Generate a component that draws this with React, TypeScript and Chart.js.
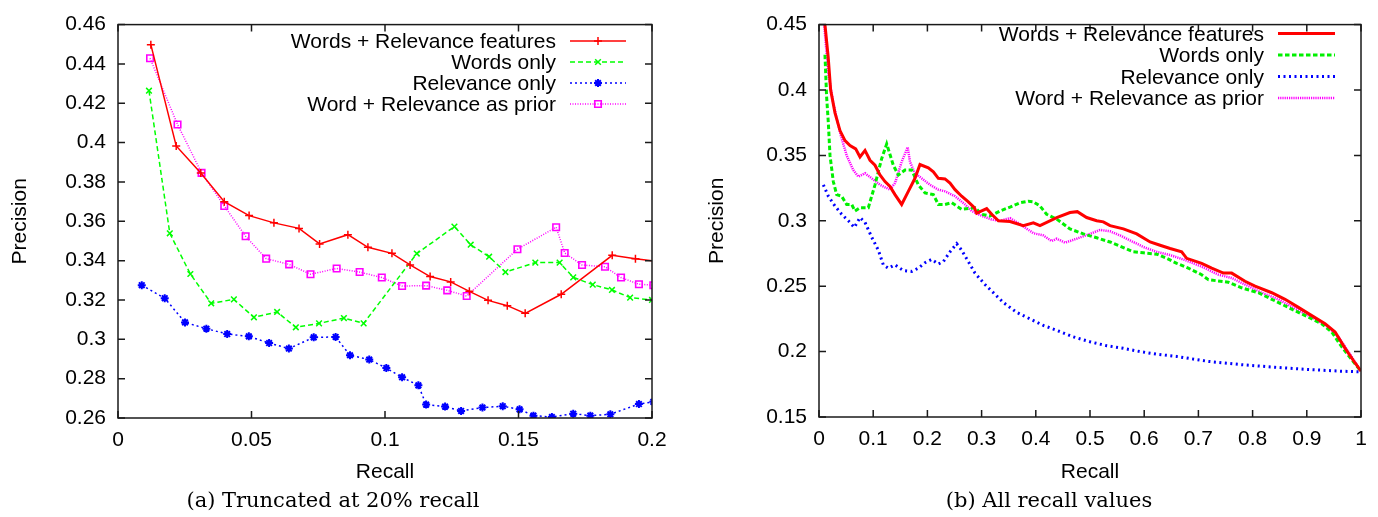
import React, { useEffect, useRef } from "react";
import { Chart, registerables } from "chart.js";
import { drawPoint } from "chart.js/helpers";

Chart.register(...registerables);

const FONT = "'Liberation Sans', Arial, Helvetica, sans-serif";
const SERIF = "'DejaVu Serif', 'Liberation Serif', serif";

const SERIES = [
  "Words + Relevance features",
  "Words only",
  "Relevance only",
  "Word + Relevance as prior",
];

// ---------- (a) truncated at 20% recall ----------
const A_X_TICKS = [0, 0.05, 0.1, 0.15, 0.2];
const A_X_LABELS = ["0", "0.05", "0.1", "0.15", "0.2"];
const A_Y_TICKS = [0.26, 0.28, 0.3, 0.32, 0.34, 0.36, 0.38, 0.4, 0.42, 0.44, 0.46];
const A_Y_LABELS = ["0.26", "0.28", "0.3", "0.32", "0.34", "0.36", "0.38", "0.4", "0.42", "0.44", "0.46"];

const A_RED_X = [0.0123, 0.0218, 0.031, 0.0398, 0.0491, 0.0584, 0.0678, 0.0755, 0.0861, 0.0936, 0.1026, 0.1094, 0.1169, 0.1246, 0.1316, 0.1386, 0.1458, 0.1525, 0.166, 0.1851, 0.1938, 0.2025];
const A_RED_Y = [0.4498, 0.3983, 0.3846, 0.37, 0.3629, 0.3592, 0.3564, 0.3485, 0.3532, 0.3468, 0.3437, 0.3378, 0.3319, 0.3292, 0.3244, 0.3198, 0.3171, 0.3132, 0.3229, 0.3427, 0.341, 0.3396];

const A_GREEN_X = [0.0116, 0.0194, 0.0271, 0.0349, 0.0434, 0.0509, 0.0596, 0.0666, 0.0753, 0.0846, 0.092, 0.1119, 0.126, 0.1321, 0.139, 0.1451, 0.1563, 0.1654, 0.1705, 0.1778, 0.185, 0.1918, 0.2];
const A_GREEN_Y = [0.4264, 0.3539, 0.3332, 0.3183, 0.3203, 0.3112, 0.3139, 0.3061, 0.3081, 0.3108, 0.3081, 0.3436, 0.3573, 0.3481, 0.342, 0.3342, 0.339, 0.339, 0.3315, 0.3278, 0.3251, 0.3212, 0.32];

const A_BLUE_X = [0.0089, 0.0175, 0.0251, 0.0331, 0.0409, 0.049, 0.0566, 0.064, 0.0733, 0.0815, 0.0869, 0.0941, 0.1005, 0.1064, 0.1125, 0.1154, 0.1225, 0.1285, 0.1365, 0.1441, 0.1504, 0.1556, 0.1625, 0.1705, 0.1769, 0.1844, 0.1951, 0.2005];
const A_BLUE_Y = [0.3275, 0.3209, 0.3086, 0.3054, 0.3027, 0.3015, 0.2981, 0.2953, 0.301, 0.3012, 0.2919, 0.2897, 0.2854, 0.2807, 0.2766, 0.2668, 0.2658, 0.2636, 0.2653, 0.266, 0.2644, 0.2612, 0.2605, 0.2622, 0.2612, 0.2619, 0.2671, 0.2682];

const A_MAG_X = [0.012, 0.0223, 0.0313, 0.0398, 0.0478, 0.0555, 0.0641, 0.0721, 0.0819, 0.0905, 0.0988, 0.1064, 0.1154, 0.1233, 0.1306, 0.1496, 0.1641, 0.1673, 0.1738, 0.1824, 0.1884, 0.1951, 0.2005];
const A_MAG_Y = [0.4429, 0.4092, 0.3846, 0.3678, 0.3524, 0.341, 0.3381, 0.3331, 0.336, 0.3342, 0.3314, 0.3271, 0.3273, 0.3249, 0.322, 0.3458, 0.357, 0.3439, 0.3378, 0.3369, 0.3314, 0.328, 0.3275];

// ---------- (b) all recall values ----------
const B_X_TICKS = [0, 0.1, 0.2, 0.3, 0.4, 0.5, 0.6, 0.7, 0.8, 0.9, 1];
const B_X_LABELS = ["0", "0.1", "0.2", "0.3", "0.4", "0.5", "0.6", "0.7", "0.8", "0.9", "1"];
const B_Y_TICKS = [0.15, 0.2, 0.25, 0.3, 0.35, 0.4, 0.45];
const B_Y_LABELS = ["0.15", "0.2", "0.25", "0.3", "0.35", "0.4", "0.45"];

const B_RED_X = [0.006, 0.011, 0.017, 0.0215, 0.0295, 0.0387, 0.048, 0.0572, 0.0677, 0.0756, 0.0849, 0.0941, 0.1033, 0.1125, 0.1218, 0.131, 0.1402, 0.1525, 0.1648, 0.1771, 0.1863, 0.2017, 0.211, 0.2202, 0.2325, 0.2417, 0.251, 0.2632, 0.2755, 0.2866, 0.2909, 0.3001, 0.3094, 0.3186, 0.331, 0.3524, 0.377, 0.3955, 0.4077, 0.4385, 0.4631, 0.4766, 0.4938, 0.5123, 0.5246, 0.537, 0.5616, 0.5862, 0.6109, 0.6293, 0.6478, 0.6691, 0.6784, 0.706, 0.7245, 0.7461, 0.7614, 0.786, 0.8045, 0.8353, 0.8599, 0.8845, 0.9091, 0.9337, 0.9522, 0.9707, 0.9891, 1.0];
const B_RED_Y = [0.47, 0.45, 0.425, 0.4, 0.3825, 0.369, 0.3613, 0.3575, 0.355, 0.3488, 0.3538, 0.3463, 0.3425, 0.335, 0.33, 0.3263, 0.32, 0.3125, 0.3225, 0.3325, 0.343, 0.3405, 0.3375, 0.3325, 0.332, 0.3288, 0.3238, 0.3188, 0.3145, 0.31, 0.3058, 0.3075, 0.3093, 0.305, 0.3, 0.2995, 0.2963, 0.2985, 0.2963, 0.3025, 0.3063, 0.307, 0.3025, 0.3, 0.2992, 0.2963, 0.2938, 0.29, 0.2838, 0.2813, 0.2788, 0.2763, 0.2713, 0.2675, 0.2638, 0.26, 0.26, 0.2538, 0.25, 0.245, 0.24, 0.2338, 0.2275, 0.2213, 0.215, 0.2025, 0.1913, 0.185];

const B_GREEN_X = [0.011, 0.014, 0.0172, 0.0203, 0.0264, 0.0326, 0.0418, 0.051, 0.0603, 0.0664, 0.0756, 0.091, 0.1033, 0.1156, 0.1249, 0.1371, 0.1464, 0.1587, 0.171, 0.1833, 0.1956, 0.211, 0.2202, 0.2325, 0.2448, 0.254, 0.2632, 0.2878, 0.3001, 0.3155, 0.3339, 0.3524, 0.3708, 0.3862, 0.3955, 0.4077, 0.42, 0.4385, 0.4631, 0.4877, 0.5123, 0.5369, 0.5615, 0.58, 0.5985, 0.623, 0.6415, 0.66, 0.6814, 0.706, 0.7183, 0.7552, 0.7798, 0.8106, 0.8413, 0.8721, 0.9029, 0.9275, 0.9459, 0.9643, 0.9828, 1.0];
const B_GREEN_Y = [0.427, 0.395, 0.375, 0.35, 0.33, 0.32, 0.3188, 0.3125, 0.3125, 0.3075, 0.31, 0.31, 0.3275, 0.3475, 0.3588, 0.3425, 0.335, 0.3388, 0.3388, 0.3275, 0.3213, 0.32, 0.3125, 0.3125, 0.3138, 0.3113, 0.3088, 0.31, 0.305, 0.3037, 0.3075, 0.3105, 0.3138, 0.315, 0.3145, 0.3113, 0.305, 0.3013, 0.2938, 0.29, 0.287, 0.2838, 0.2795, 0.2763, 0.2755, 0.2745, 0.2713, 0.2675, 0.2638, 0.2588, 0.255, 0.253, 0.2488, 0.245, 0.2388, 0.2325, 0.2263, 0.2213, 0.215, 0.2038, 0.1938, 0.185];

const B_BLUE_X = [0.008, 0.0172, 0.0295, 0.0418, 0.0541, 0.0652, 0.0756, 0.0849, 0.0972, 0.1095, 0.1187, 0.1279, 0.1402, 0.1556, 0.171, 0.1833, 0.1956, 0.2079, 0.2202, 0.2294, 0.2417, 0.254, 0.2632, 0.2755, 0.2878, 0.3063, 0.3247, 0.3401, 0.3647, 0.3893, 0.4139, 0.4385, 0.4692, 0.5, 0.5308, 0.5615, 0.5923, 0.623, 0.6599, 0.7183, 0.7798, 0.8413, 0.9029, 0.9643, 1.0];
const B_BLUE_Y = [0.3275, 0.3188, 0.3113, 0.305, 0.3, 0.295, 0.3025, 0.2988, 0.2875, 0.2775, 0.2663, 0.2638, 0.2663, 0.262, 0.2613, 0.2638, 0.268, 0.2705, 0.267, 0.2688, 0.2763, 0.2825, 0.2775, 0.2688, 0.26, 0.2513, 0.2438, 0.2375, 0.23, 0.225, 0.22, 0.2163, 0.2113, 0.2075, 0.2045, 0.2025, 0.2, 0.198, 0.1963, 0.1925, 0.19, 0.188, 0.1863, 0.185, 0.1845];

const B_MAG_X = [0.009, 0.011, 0.0172, 0.0264, 0.0387, 0.051, 0.0633, 0.0726, 0.0849, 0.0972, 0.1125, 0.131, 0.1402, 0.1525, 0.1636, 0.1679, 0.1771, 0.1894, 0.2048, 0.2202, 0.2325, 0.251, 0.2694, 0.2817, 0.3001, 0.3186, 0.3339, 0.3524, 0.3708, 0.3955, 0.4139, 0.4293, 0.4385, 0.4539, 0.4754, 0.5, 0.5185, 0.5369, 0.5554, 0.5739, 0.5985, 0.623, 0.6478, 0.6753, 0.706, 0.7368, 0.7614, 0.786, 0.8168, 0.8476, 0.8783, 0.9152, 0.9398, 0.9582, 0.9766, 1.0];
const B_MAG_Y = [0.452, 0.443, 0.4125, 0.39, 0.3675, 0.35, 0.3388, 0.3338, 0.3363, 0.3325, 0.3275, 0.3238, 0.3288, 0.345, 0.3563, 0.345, 0.3363, 0.3325, 0.3275, 0.3238, 0.3225, 0.3188, 0.3125, 0.3075, 0.3038, 0.301, 0.3, 0.302, 0.2975, 0.2905, 0.2888, 0.2845, 0.2863, 0.2833, 0.2863, 0.29, 0.293, 0.292, 0.2888, 0.285, 0.28, 0.2763, 0.2738, 0.27, 0.265, 0.2588, 0.2563, 0.2513, 0.245, 0.24, 0.233, 0.225, 0.2188, 0.2113, 0.2, 0.185];

const pts = (xs: number[], ys: number[]) => xs.map((x, i) => ({ x, y: ys[i] }));

const framePlugin = {
  id: "gpFrame",
  afterDatasetsDraw(chart: any) {
    const { ctx, chartArea: a, scales } = chart;
    const tl = 7;
    ctx.save();
    ctx.strokeStyle = "#1a1a1a";
    ctx.lineWidth = 1.5;
    ctx.setLineDash([]);
    ctx.strokeRect(a.left, a.top, a.right - a.left, a.bottom - a.top);
    ctx.beginPath();
    scales.x.ticks.forEach((t: any) => {
      const px = scales.x.getPixelForValue(t.value);
      ctx.moveTo(px, a.bottom);
      ctx.lineTo(px, a.bottom - tl);
      ctx.moveTo(px, a.top);
      ctx.lineTo(px, a.top + tl);
    });
    scales.y.ticks.forEach((t: any) => {
      const py = scales.y.getPixelForValue(t.value);
      ctx.moveTo(a.left, py);
      ctx.lineTo(a.left + tl, py);
      ctx.moveTo(a.right, py);
      ctx.lineTo(a.right - tl, py);
    });
    ctx.stroke();
    ctx.restore();
  },
};

const legendPlugin = {
  id: "gpLegend",
  afterDraw(chart: any, _args: any, opts: any) {
    const { ctx } = chart;
    chart.data.datasets.forEach((ds: any, i: number) => {
      const y = opts.rows[i];
      ctx.save();
      ctx.font = `21px ${FONT}`;
      ctx.fillStyle = "#000";
      ctx.textAlign = "right";
      ctx.textBaseline = "middle";
      ctx.fillText(ds.label, opts.textRight, y + 1.5);
      ctx.strokeStyle = ds.borderColor;
      ctx.lineWidth = ds.borderWidth;
      ctx.setLineDash(ds.borderDash || []);
      ctx.beginPath();
      ctx.moveTo(opts.lineStart, y);
      ctx.lineTo(opts.lineEnd, y);
      ctx.stroke();
      if (ds.pointRadius > 0) {
        ctx.setLineDash([]);
        ctx.strokeStyle = ds.borderColor;
        ctx.fillStyle = "rgba(0,0,0,0)";
        ctx.lineWidth = ds.pointBorderWidth;
        drawPoint(
          ctx,
          { pointStyle: ds.pointStyle, radius: ds.pointRadius, borderWidth: ds.pointBorderWidth, rotation: 0 } as any,
          (opts.lineStart + opts.lineEnd) / 2,
          y
        );
      }
      ctx.restore();
    });
  },
};

type AxisSpec = {
  min: number;
  max: number;
  ticks: number[];
  labels: string[];
};

function makeConfig(
  datasets: any[],
  xs: AxisSpec,
  ys: AxisSpec,
  layout: { top: number; right: number; yWidth: number; xHeight: number; yTitlePad: number; xTickPad: number; xTitlePad: number },
  legend: any
): any {
  const tickFont = { family: FONT, size: 21 };
  return {
    type: "scatter",
    data: { datasets },
    options: {
      responsive: false,
      animation: false,
      events: [],
      layout: { padding: { left: 0, top: layout.top, right: layout.right, bottom: 0 } },
      plugins: {
        legend: { display: false },
        tooltip: { enabled: false },
        gpLegend: legend,
      },
      scales: {
        x: {
          type: "linear",
          min: xs.min,
          max: xs.max,
          grid: { display: false, drawTicks: false },
          border: { display: false },
          afterBuildTicks: (s: any) => {
            s.ticks = xs.ticks.map((v) => ({ value: v }));
          },
          afterFit: (s: any) => {
            s.height = layout.xHeight;
          },
          ticks: {
            font: tickFont,
            color: "#000",
            padding: layout.xTickPad,
            maxRotation: 0,
            autoSkip: false,
            callback: (_v: any, i: number) => xs.labels[i],
          },
          title: {
            display: true,
            text: "Recall",
            font: tickFont,
            color: "#000",
            padding: { top: 0, bottom: layout.xTitlePad },
          },
        },
        y: {
          type: "linear",
          min: ys.min,
          max: ys.max,
          grid: { display: false, drawTicks: false },
          border: { display: false },
          afterBuildTicks: (s: any) => {
            s.ticks = ys.ticks.map((v) => ({ value: v }));
          },
          afterFit: (s: any) => {
            s.width = layout.yWidth;
          },
          ticks: {
            font: tickFont,
            color: "#000",
            padding: 12,
            autoSkip: false,
            callback: (_v: any, i: number) => ys.labels[i],
          },
          title: {
            display: true,
            text: "Precision",
            font: tickFont,
            color: "#000",
            padding: { top: layout.yTitlePad, bottom: 0 },
          },
        },
      },
    },
    plugins: [framePlugin, legendPlugin],
  };
}

function line(label: string, data: any[], color: string, width: number, dash: number[], pointStyle: any, radius: number, pbw: number) {
  return {
    label,
    data,
    showLine: true,
    borderColor: color,
    backgroundColor: "rgba(0,0,0,0)",
    borderWidth: width,
    borderDash: dash,
    tension: 0,
    pointStyle,
    pointRadius: radius,
    pointBorderWidth: pbw,
    pointBorderColor: color,
    pointBackgroundColor: "rgba(0,0,0,0)",
    pointHoverRadius: radius,
  };
}

export default function App() {
  const leftRef = useRef<HTMLCanvasElement>(null);
  const rightRef = useRef<HTMLCanvasElement>(null);

  useEffect(() => {
    const leftSets = [
      line(SERIES[0], pts(A_RED_X, A_RED_Y), "#ff0000", 1.5, [], "cross", 4, 1.5),
      line(SERIES[1], pts(A_GREEN_X, A_GREEN_Y), "#00ff00", 1.5, [5, 3], "crossRot", 4, 1.5),
      line(SERIES[2], pts(A_BLUE_X, A_BLUE_Y), "#0000ff", 1.5, [2, 3], "star", 4, 2),
      line(SERIES[3], pts(A_MAG_X, A_MAG_Y), "#ff00ff", 1.5, [1, 1.5], "rect", 4.6, 1.6),
    ];
    const rightSets = [
      line(SERIES[0], pts(B_RED_X, B_RED_Y), "#ff0000", 3, [], "circle", 0, 0),
      line(SERIES[1], pts(B_GREEN_X, B_GREEN_Y), "#00f000", 3, [4.5, 2.5], "circle", 0, 0),
      line(SERIES[2], pts(B_BLUE_X, B_BLUE_Y), "#0000ff", 3, [2, 3.5], "circle", 0, 0),
      line(SERIES[3], pts(B_MAG_X, B_MAG_Y), "#ff00ff", 2.5, [1.2, 1], "circle", 0, 0),
    ];
    const left = new Chart(
      leftRef.current as HTMLCanvasElement,
      makeConfig(
        leftSets,
        { min: 0, max: 0.2, ticks: A_X_TICKS, labels: A_X_LABELS },
        { min: 0.26, max: 0.46, ticks: A_Y_TICKS, labels: A_Y_LABELS },
        { top: 24, right: 38, yWidth: 118, xHeight: 99, yTitlePad: 8, xTickPad: 10, xTitlePad: 32 },
        { textRight: 556, lineStart: 570, lineEnd: 626, rows: [41, 62, 83, 104] }
      )
    );
    const right = new Chart(
      rightRef.current as HTMLCanvasElement,
      makeConfig(
        rightSets,
        { min: 0, max: 1, ticks: B_X_TICKS, labels: B_X_LABELS },
        { min: 0.15, max: 0.45, ticks: B_Y_TICKS, labels: B_Y_LABELS },
        { top: 17, right: 17, yWidth: 129, xHeight: 100, yTitlePad: 15, xTickPad: 10, xTitlePad: 32 },
        { textRight: 574, lineStart: 588, lineEnd: 645, rows: [33.5, 55, 76.5, 98] }
      )
    );
    return () => {
      left.destroy();
      right.destroy();
    };
  }, []);

  const caption: React.CSSProperties = {
    position: "absolute",
    top: 487,
    fontFamily: SERIF,
    fontSize: 21,
    lineHeight: "26px",
    color: "#000",
    whiteSpace: "nowrap",
    transform: "translateX(-50%)",
  };

  return (
    <div style={{ position: "absolute", left: 0, top: 0, width: 1378, height: 517, background: "#fff", overflow: "hidden" }}>
      <canvas ref={leftRef} width={690} height={517} style={{ position: "absolute", left: 0, top: 0 }} />
      <canvas ref={rightRef} width={688} height={517} style={{ position: "absolute", left: 690, top: 0 }} />
      <div style={{ ...caption, left: 333 }}>(a) Truncated at 20% recall</div>
      <div style={{ ...caption, left: 1049 }}>(b) All recall values</div>
    </div>
  );
}
